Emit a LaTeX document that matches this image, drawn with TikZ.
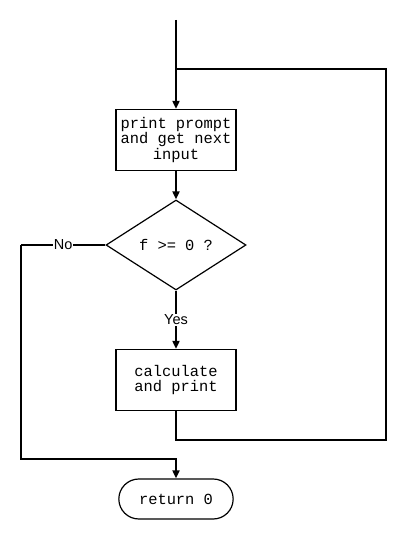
\documentclass[tikz,border=0pt]{standalone}
\usepackage{fontspec}
\setmonofont{Liberation Mono}
\setsansfont{Liberation Sans}
\usetikzlibrary{shapes.geometric, shapes.misc, arrows.meta, positioning}

\tikzset{
  block/.style={draw, line width=1.2pt, minimum width=120pt, minimum height=61pt,
    align=center, font=\ttfamily\fontsize{15.4}{15.2}\selectfont},
  decision/.style={draw, diamond, line width=1.2pt, minimum width=140pt, minimum height=90pt,
    inner sep=0pt, font=\ttfamily\fontsize{15.4}{15.2}\selectfont},
  terminal/.style={draw, rounded rectangle, line width=1.2pt, minimum width=121pt,
    minimum height=40pt, font=\ttfamily\fontsize{15.4}{15.2}\selectfont},
  flow/.style={line width=1.8pt, -{Triangle[length=8pt,width=7pt]}},
  wire/.style={line width=1.8pt},
  answer/.style={fill=white, inner sep=1pt, font=\sffamily\fontsize{14.5}{14.5}\selectfont}
}

\begin{document}
\begin{tikzpicture}[x=1pt, y=-1pt]

      \useasboundingbox (0,0) rectangle (407,540);

      % Boxes of the loop
      \node[block] (prompt) at (176,140) {print prompt\\and get next\\input};
      \node[decision] (test) at (176,245) {f >= 0 ?};
      \node[block] (calc) at (176,380) {calculate\\and print};
      \node[terminal] (ret) at (176,499) {return 0};

      % Corner points of the connectors
      \coordinate (start) at (176,20);
      \coordinate (join) at (176,69);
      \coordinate (backtop) at (386,69);
      \coordinate (backbot) at (386,440);
      \coordinate (notop) at (21,245);
      \coordinate (nobot) at (21,459);
      \coordinate (retin) at (176,459);

      % Connectors
      \draw[flow] (start) -- (prompt);
      \draw[flow] (prompt) -- (test);
      \draw[flow] (test) -- node[answer] {Yes} (calc);
      \draw[wire] (calc.south) |- (backbot) -- (backtop) -- (join);
      \draw[wire] (test.west) -- node[answer] {No} (notop);
      \draw[flow] (notop) -- (nobot) -- (retin) -- (ret);

    \end{tikzpicture}
\end{document}
